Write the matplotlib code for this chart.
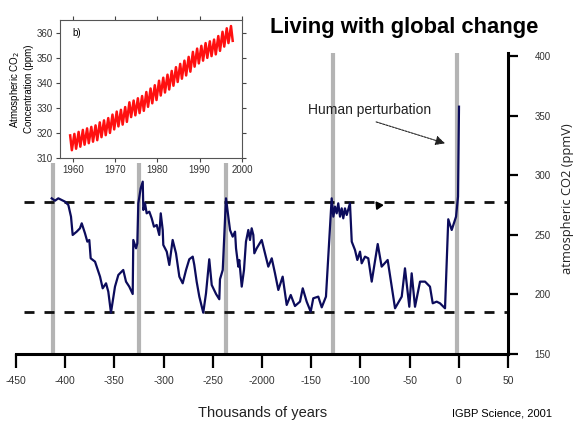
import numpy as np
import matplotlib.pyplot as plt

# Vostok-style record, thousands of years vs ppmV
kyr = [-413.7, -410.4, -407.0, -400.2, -396.8, -394.1, -392.4, -388.3, -385.0, -383.2,
       -379.9, -377.5, -375.5, -374.1, -369.7, -364.6, -361.9, -358.5, -356.2, -353.5,
       -349.4, -346.0, -341.0, -338.2, -334.9, -331.4, -330.8, -328.0, -326.7, -325.7,
       -323.3, -321.2, -320.6, -318.9, -317.2, -314.5, -312.1, -309.8, -307.0, -304.4,
       -302.9, -300.9, -300.3, -296.8, -294.2, -290.8, -287.4, -284.0, -280.6, -277.2,
       -273.9, -270.4, -268.8, -266.4, -263.7, -259.7, -256.9, -253.6, -251.1, -246.7,
       -243.4, -242.7, -239.9, -236.6, -234.2, -232.5, -229.8, -227.4, -226.4, -224.1,
       -223.1, -220.6, -218.3, -216.3, -213.9, -212.2, -210.5, -208.8, -207.8, -205.4,
       -200.3, -197.0, -193.6, -190.1, -186.8, -183.4, -179.0, -174.9, -170.8, -166.5,
       -161.4, -158.6, -154.6, -150.5, -147.9, -142.8, -139.3, -135.0, -129.2, -127.5,
       -125.8, -124.1, -122.5, -120.7, -119.0, -117.4, -115.7, -113.9, -110.6, -108.8,
       -105.5, -103.1, -100.4, -98.7, -95.3, -92.0, -88.5, -82.4, -78.4, -72.3,
       -64.8, -58.0, -54.7, -50.3, -47.9, -44.5, -39.4, -34.3, -29.3, -26.5,
       -22.5, -19.1, -14.0, -10.7, -7.2, -2.8, -0.8, 0.2]
co2 = [280.8, 278.8, 280.8, 278.0, 275.2, 265.4, 250.0, 252.8, 255.6, 259.8,
       251.4, 244.4, 245.8, 230.4, 227.6, 215.0, 205.2, 209.4, 202.4, 184.7,
       206.6, 216.4, 220.6, 210.8, 206.6, 200.4, 245.8, 238.8, 243.0, 276.6,
       289.2, 294.8, 271.0, 276.6, 268.2, 269.6, 264.0, 257.0, 258.4, 250.0,
       268.2, 254.2, 241.6, 236.0, 224.8, 245.8, 234.6, 215.0, 209.4, 220.6,
       229.6, 231.8, 224.8, 210.8, 198.2, 184.7, 201.0, 229.6, 208.0, 200.4,
       196.0, 212.8, 220.6, 280.8, 265.4, 254.2, 248.6, 252.8, 238.8, 223.4,
       229.0, 206.6, 220.6, 244.4, 254.2, 245.8, 255.6, 250.0, 234.6, 238.8,
       245.8, 234.6, 223.4, 230.4, 217.8, 203.8, 215.0, 191.2, 199.6, 190.3,
       194.0, 205.2, 194.0, 185.5, 196.8, 198.2, 189.2, 198.2, 280.8, 265.4,
       273.8, 268.2, 276.6, 265.4, 272.4, 264.0, 272.4, 266.8, 276.6, 244.4,
       237.4, 229.0, 236.0, 226.2, 231.8, 230.4, 210.8, 242.4, 223.4, 229.0,
       188.4, 198.2, 222.0, 189.7, 217.8, 189.7, 210.8, 210.8, 206.6, 192.6,
       194.0, 192.6, 188.4, 263.2, 254.2, 265.4, 282.2, 357.8]

interglacials = [-412, -325, -237, -128, -2]
upper_level = 278
lower_level = 185

x_ticks = [-450, -400, -350, -300, -250, -200, -150, -100, -50, 0, 50]
x_labels = ['-450', '-400', '-350', '-300', '-250', '-2000', '-150', '-100', '-50', '0', '50']
y_ticks = [150, 200, 250, 300, 350, 400]

# inset: Mauna Loa style record, seasonal high and low per year
years = list(range(1959, 1998))
season_high = [319.0, 319.6, 320.4, 321.2, 321.8, 322.4, 323.0, 324.2, 325.0, 325.9,
               327.3, 328.5, 329.2, 330.3, 332.2, 332.9, 333.8, 334.7, 336.3, 337.7,
               339.0, 340.8, 342.0, 343.2, 344.7, 346.2, 347.5, 348.8, 350.3, 352.3,
               353.6, 354.7, 355.8, 356.5, 357.2, 358.6, 360.3, 361.7, 362.6]
season_low = [313.1, 313.7, 314.5, 315.3, 315.9, 316.5, 317.1, 318.3, 319.1, 320.0,
              321.4, 322.6, 323.3, 324.4, 326.3, 327.0, 327.9, 328.8, 330.4, 331.8,
              333.1, 334.9, 336.1, 337.3, 338.8, 340.3, 341.6, 342.9, 344.4, 346.4,
              347.7, 348.8, 349.9, 350.6, 351.3, 352.7, 354.4, 355.8, 356.7]

narrow = ['Liberation Sans', 'DejaVu Sans']

W, H = 578, 426
fig = plt.figure(figsize=(W / 100, H / 100), dpi=100)

ax = fig.add_axes([16 / W, 72 / H, 492 / W, 301 / H])
ax.set_xlim(-450, 50)
ax.set_ylim(150, 402.9)

for x in interglacials:
    ax.axvline(x, color='#b4b4b4', lw=3, zorder=1)
for lvl in [upper_level, lower_level]:
    ax.hlines(lvl, -442, 49, colors='#111111', lw=2, linestyles=(0, (3.6, 3.6)), zorder=2)
ax.plot(kyr, co2, color='#0c0c5c', lw=1.6, zorder=3)

for s in ['top', 'left']:
    ax.spines[s].set_visible(False)
ax.spines['bottom'].set_linewidth(2.2)
ax.spines['right'].set_linewidth(2.2)
ax.set_xticks(x_ticks)
ax.set_xticklabels(x_labels, family=narrow, fontsize=7.5, color='#333333')
ax.tick_params(axis='x', direction='out', length=10, width=1.6, pad=6)
ax.yaxis.tick_right()
ax.set_yticks(y_ticks)
ax.set_yticklabels([str(v) for v in y_ticks], family=narrow, fontsize=7, color='#333333')
ax.tick_params(axis='y', direction='out', length=7, width=1.6, pad=12)

ax.text(-153, 355, 'Human perturbation', fontsize=10, family=narrow,
        color='#222222', va='center', ha='left')
ax.annotate('', xy=(-14, 327), xytext=(-84, 345),
            arrowprops=dict(arrowstyle='-|>', color='#222222', lw=0.8,
                            linestyle=(0, (2, 1)), mutation_scale=14,
                            shrinkA=0, shrinkB=0))
# stray mouse pointer in the original screenshot
ax.plot([-82.1], [275.5], marker=(3, 0, 35), color='black', markersize=6, zorder=4)

fig.text(263 / W, 1 - 413 / H, 'Thousands of years', family=narrow, fontsize=10.5,
         color='#222222', ha='center', va='center')
fig.text(567 / W, 1 - 199 / H, 'atmospheric CO2 (ppmV)', family=['Open Sans', 'DejaVu Sans'],
         fontsize=9.3, color='#222222', rotation=90, ha='center', va='center')
fig.text(404 / W, 1 - 27 / H, 'Living with global change', family='Liberation Sans',
         fontweight='bold', fontsize=15.8, ha='center', va='center')
fig.text(502 / W, 1 - 413 / H, 'IGBP Science, 2001', family='Liberation Sans',
         fontsize=8, ha='center', va='center')

# white card behind the inset
card = fig.add_axes([0, 1 - 163 / H, 248 / W, 163 / H])
card.set_xticks([])
card.set_yticks([])
for s in card.spines.values():
    s.set_visible(False)
card.set_facecolor('white')

ins = fig.add_axes([60 / W, 1 - 158 / H, 182 / W, 138 / H])
t = []
v = []
for yr, hi, lo in zip(years, season_high, season_low):
    t += [yr + 0.4, yr + 0.8]
    v += [hi, lo]
ins.plot(t, v, color='#ff1010', lw=1.8)
ins.set_xlim(1957, 2000)
ins.set_ylim(310, 365)
ins.set_xticks([1960, 1970, 1980, 1990, 2000])
ins.set_yticks([310, 320, 330, 340, 350, 360])
ins.tick_params(labelsize=7, length=3, width=0.8, color='#444444', pad=2,
                top=True, right=True)
ins.tick_params(axis='y', direction='out')
for lab in ins.get_xticklabels() + ins.get_yticklabels():
    lab.set_family(narrow)
    lab.set_color('#333333')
for s in ins.spines.values():
    s.set_color('#555555')
    s.set_linewidth(0.8)
ins.text(1960, 360, 'b)', fontsize=7, family=narrow, va='center')
ins.set_ylabel('Atmospheric CO$_2$\nConcentration (ppm)', fontsize=7, family=narrow,
               labelpad=2, linespacing=1.2)

fig.savefig('out.png', dpi=100)
